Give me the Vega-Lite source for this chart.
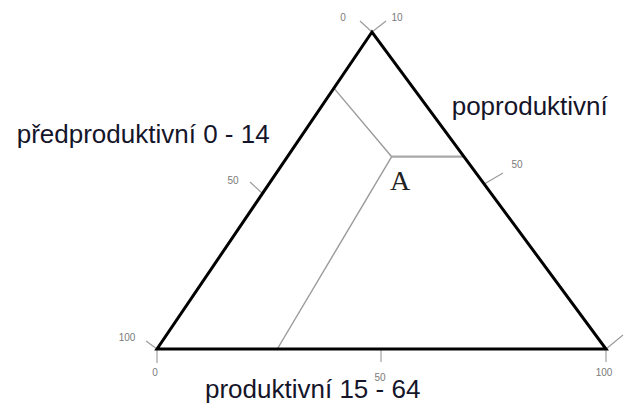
{
  "$schema": "https://vega.github.io/schema/vega-lite/v6.json",
  "width": 629,
  "height": 405,
  "padding": 0,
  "autosize": {"type": "fit", "contains": "padding"},
  "background": "white",
  "config": {"view": {"stroke": null}},
  "datasets": {
    "triangle": [
      {"ord": 1, "x": 0, "y": 0},
      {"ord": 2, "x": 47.88, "y": 100},
      {"ord": 3, "x": 100, "y": 0},
      {"ord": 4, "x": 0, "y": 0},
      {"ord": 5, "x": 47.88, "y": 100}
    ],
    "slanted": [
      {"x": 52.27, "y": 60.66, "x2": 39.4, "y2": 82.3},
      {"x": 52.27, "y": 60.66, "x2": 26.79, "y2": 0}
    ],
    "horizontal": [
      {"x": 52.27, "y": 60.66, "x2": 68.4, "y2": 60.66}
    ],
    "ticks": [
      {"x": 47.88, "y": 100, "x2": 45.21, "y2": 103.47},
      {"x": 47.88, "y": 100, "x2": 51.0, "y2": 103.47},
      {"x": 0, "y": 0, "x2": -2.45, "y2": 2.52},
      {"x": 0, "y": 0, "x2": 0, "y2": -4.42},
      {"x": 23.39, "y": 49.21, "x2": 20.71, "y2": 52.68},
      {"x": 72.9, "y": 52.05, "x2": 77.06, "y2": 55.52},
      {"x": 49.89, "y": 0, "x2": 49.89, "y2": -4.1},
      {"x": 100, "y": 0, "x2": 100, "y2": -4.1},
      {"x": 100, "y": 0, "x2": 103.79, "y2": 4.42}
    ],
    "ticklabels": [
      {"x": 41.43, "y": 104.42, "label": "0"},
      {"x": 53.45, "y": 104.42, "label": "10"},
      {"x": -6.68, "y": 3.47, "label": "100"},
      {"x": 16.93, "y": 53.0, "label": "50"},
      {"x": -0.45, "y": -7.57, "label": "0"},
      {"x": 49.67, "y": -9.15, "label": "50"},
      {"x": 99.55, "y": -7.57, "label": "100"},
      {"x": 80.18, "y": 58.04, "label": "50"}
    ],
    "titles": [
      {"x": -31.25, "y": 64.98, "label": "předproduktivní 0 - 14"},
      {"x": 65.63, "y": 73.66, "label": "poproduktivní"},
      {"x": 10.69, "y": -15.46, "label": "produktivní 15 - 64"}
    ],
    "point": [
      {"x": 54.12, "y": 50.16, "label": "A"}
    ]
  },
  "encoding": {
    "x": {"field": "x", "type": "quantitative", "scale": {"domain": [-34.967, 105.122], "nice": false, "zero": false}, "axis": null},
    "y": {"field": "y", "type": "quantitative", "scale": {"domain": [-17.666, 110.095], "nice": false, "zero": false}, "axis": null}
  },
  "layer": [
    {
      "data": {"name": "slanted"},
      "mark": {"type": "rule", "color": "#9a9a9a", "strokeWidth": 1.4},
      "encoding": {"x2": {"field": "x2"}, "y2": {"field": "y2"}}
    },
    {
      "data": {"name": "horizontal"},
      "mark": {"type": "rule", "color": "#a8a8a8", "strokeWidth": 2.2},
      "encoding": {"x2": {"field": "x2"}, "y2": {"field": "y2"}}
    },
    {
      "data": {"name": "ticks"},
      "mark": {"type": "rule", "color": "#999999", "strokeWidth": 1.1},
      "encoding": {"x2": {"field": "x2"}, "y2": {"field": "y2"}}
    },
    {
      "data": {"name": "triangle"},
      "mark": {"type": "line", "color": "#000000", "strokeWidth": 3, "strokeJoin": "miter", "strokeCap": "butt"},
      "encoding": {"order": {"field": "ord", "type": "quantitative"}}
    },
    {
      "data": {"name": "ticklabels"},
      "mark": {"type": "text", "font": "Liberation Sans", "fontSize": 10, "color": "#7a7a7a", "align": "center", "baseline": "middle"},
      "encoding": {"text": {"field": "label"}}
    },
    {
      "data": {"name": "titles"},
      "mark": {"type": "text", "font": "Liberation Sans", "fontSize": 26, "color": "#15152a", "align": "left", "baseline": "alphabetic"},
      "encoding": {"text": {"field": "label"}}
    },
    {
      "data": {"name": "point"},
      "mark": {"type": "text", "font": "Liberation Serif", "fontSize": 28, "color": "#222222", "align": "center", "baseline": "alphabetic"},
      "encoding": {"text": {"field": "label"}}
    }
  ]
}
